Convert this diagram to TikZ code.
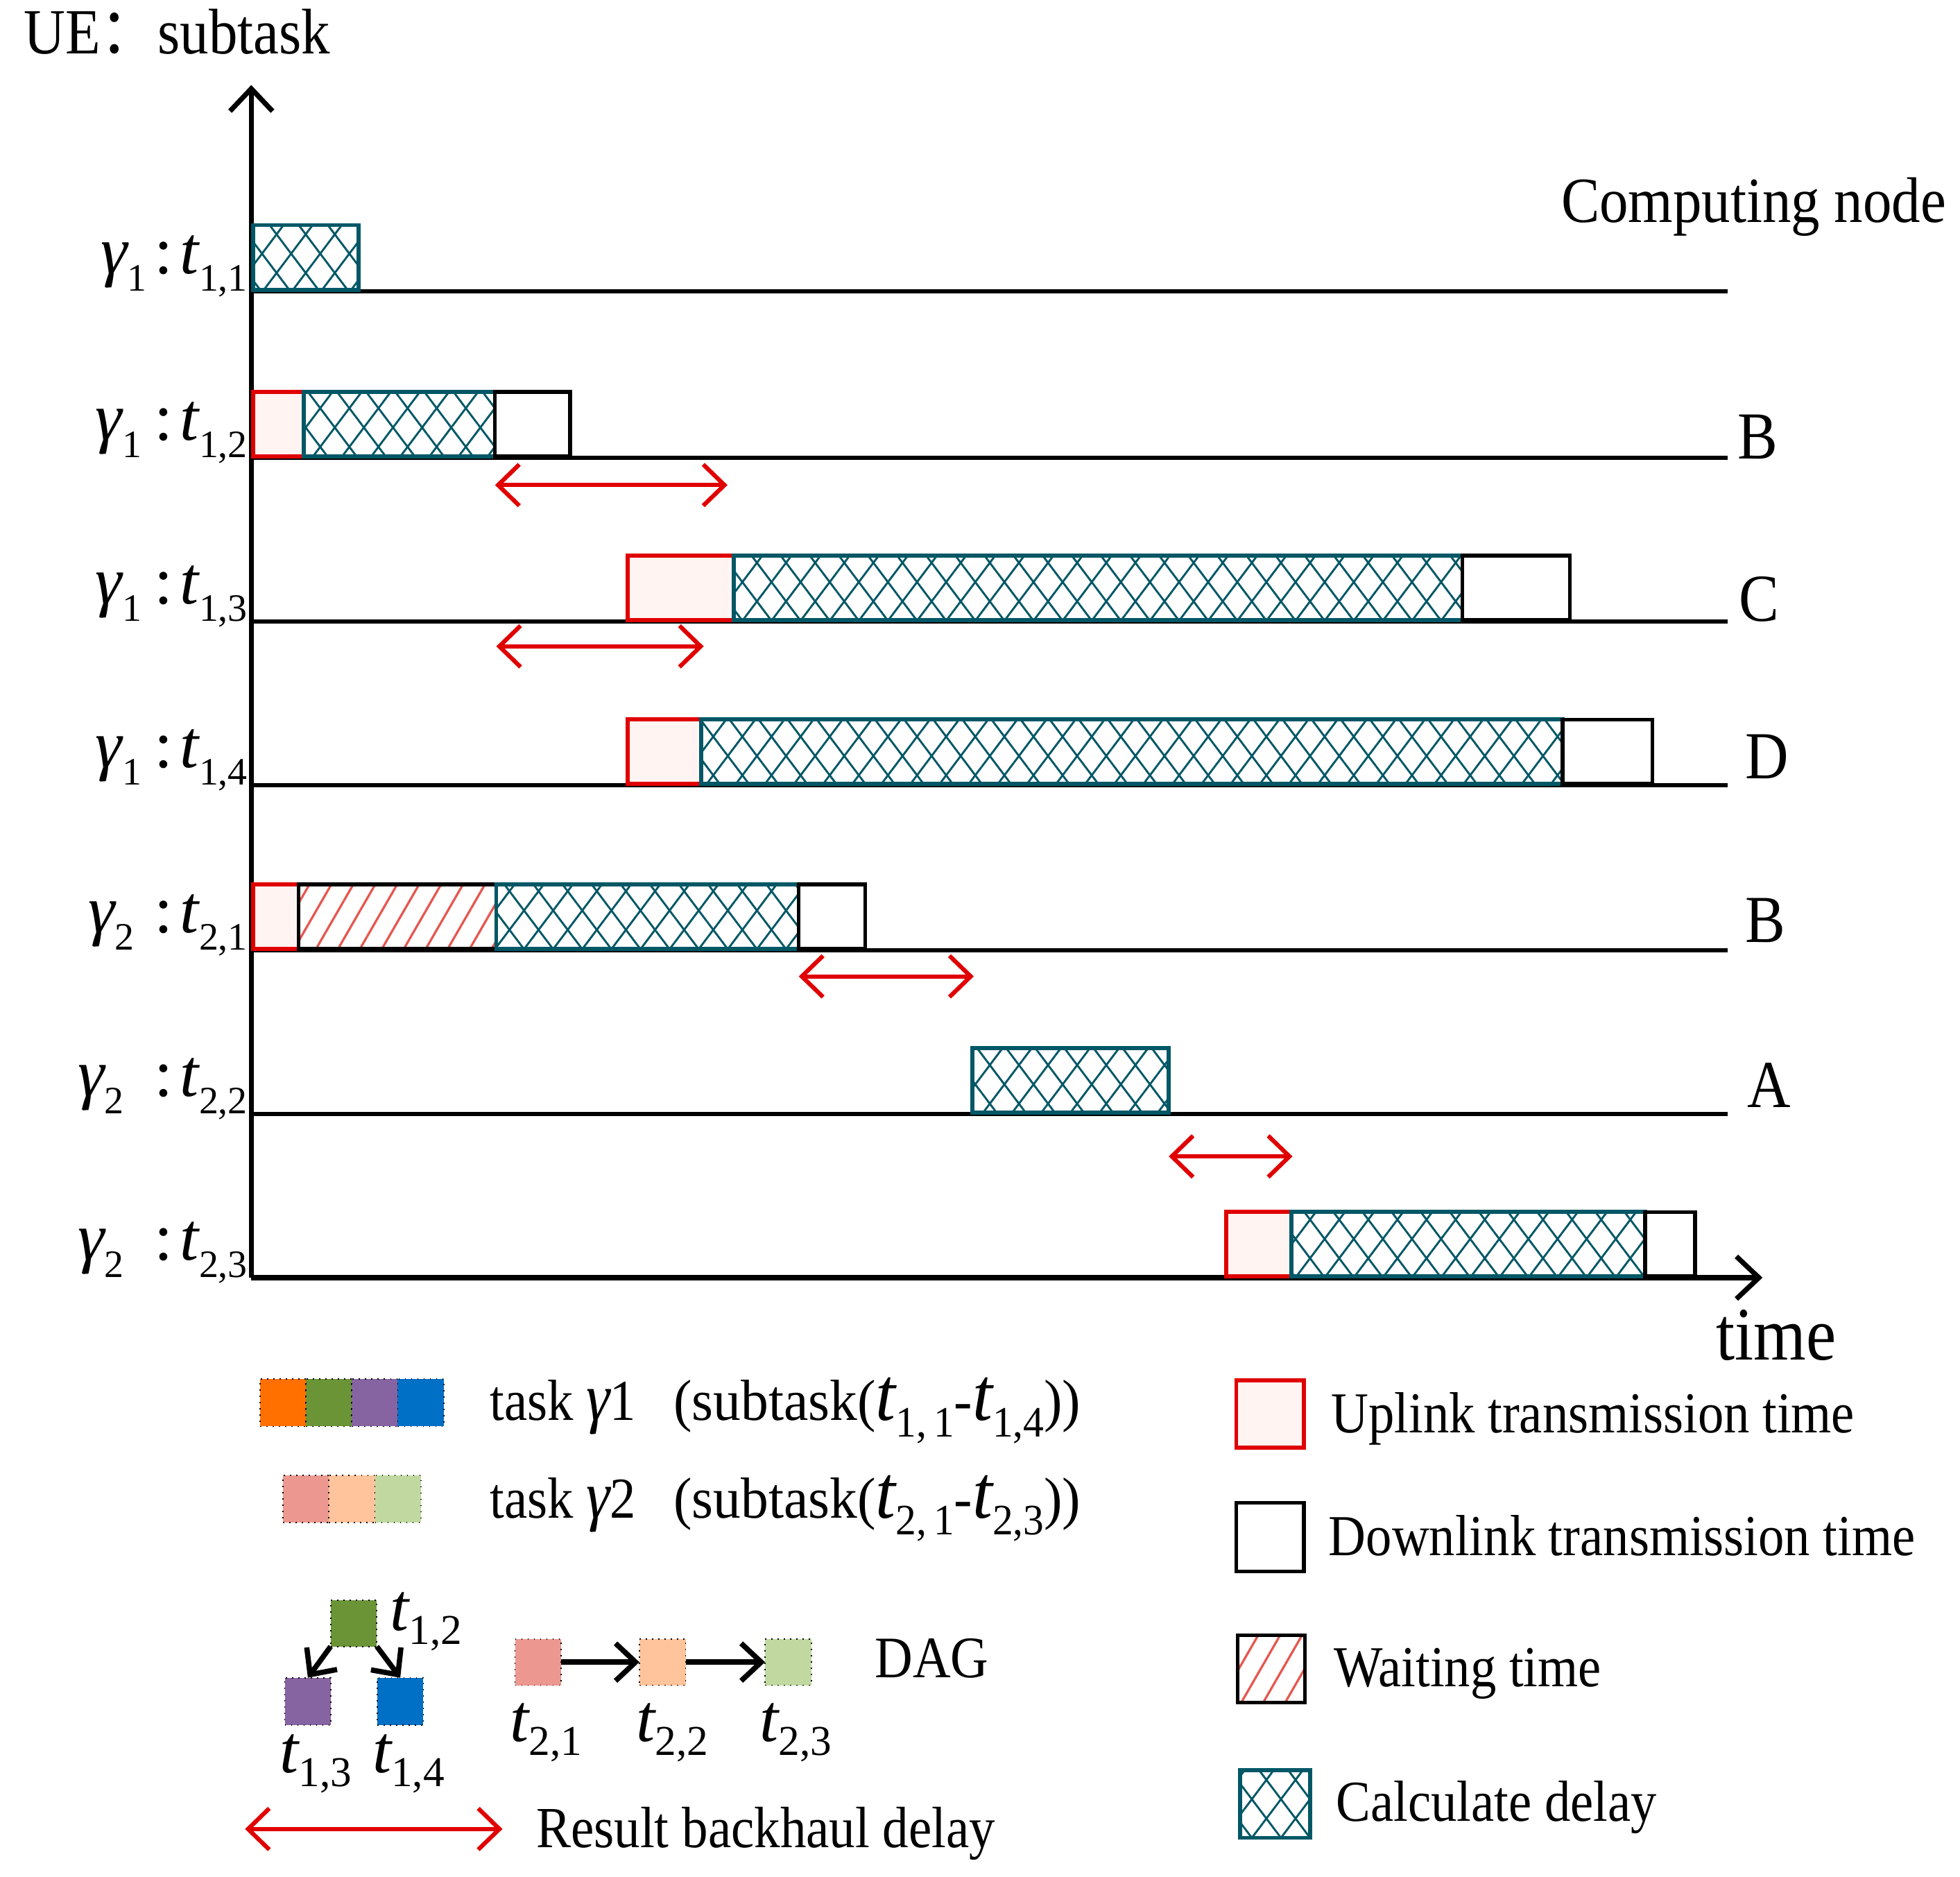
\documentclass[tikz,border=0pt]{standalone}
\usepackage{graphicx}
\usepackage{fontspec}
\setmainfont{Liberation Serif}
\newfontfamily\cjk{Noto Sans CJK SC}
\usetikzlibrary{arrows.meta,patterns.meta}
\definecolor{uplred}{HTML}{E00000}
\definecolor{uplfill}{HTML}{FFF4F2}
\definecolor{calcteal}{HTML}{005766}
\definecolor{waitred}{HTML}{E5574F}
\definecolor{cOrange}{HTML}{FF7000}
\definecolor{cGreen}{HTML}{6A9436}
\definecolor{cPurple}{HTML}{8664A1}
\definecolor{cBlue}{HTML}{0070C6}
\definecolor{cSalmon}{HTML}{EC9890}
\definecolor{cPeach}{HTML}{FFC49B}
\definecolor{cLgreen}{HTML}{C1D9A1}
\newcommand{\fsz}[1]{\fontsize{#1}{#1}\selectfont}
\newcommand{\vst}[1]{\scalebox{1}[1.12]{#1}}
\newcommand{\wst}[1]{\scalebox{1.065}[1.12]{#1}}
\newcommand{\rowlab}[3]{{\fsz{27}\itshape γ}\raisebox{-7pt}{\fsz{15.5}#1}\hspace{#3}{\fsz{27}:}\hspace{3pt}{\fsz{27}\itshape t}\raisebox{-7pt}{\fsz{15.5}#2}}
\newcommand{\tlab}[1]{{\fsz{27}\itshape t}\raisebox{-5.5pt}{\fsz{17}#1}}
\begin{document}
\begin{tikzpicture}[x=0.5pt,y=-0.5pt,
  rowline/.style={line width=1.7pt, black},
  axisline/.style={line width=2pt, black, -{Straight Barb[length=9pt,width=17pt]}},
  upbox/.style={draw=uplred, fill=uplfill, line width=1.6pt},
  downbox/.style={draw=black, fill=white, line width=1.5pt},
  calcbox/.style={preaction={fill=white},
    preaction={pattern={Lines[angle=53,distance=9.3pt,line width=0.8pt]}, pattern color=calcteal},
    preaction={pattern={Lines[angle=-53,distance=9.3pt,line width=0.8pt]}, pattern color=calcteal},
    draw=calcteal, line width=1.6pt},
  waitbox/.style={preaction={fill=white},
    preaction={pattern={Lines[angle=60,distance=7.6pt,line width=0.9pt]}, pattern color=waitred},
    draw=black, line width=1.5pt},
  backarrow/.style={draw=uplred, line width=1.7pt,
    {Straight Barb[length=8.5pt,width=16.5pt]}-{Straight Barb[length=8.5pt,width=16.5pt]}},
  dagarrow/.style={draw=black, line width=2.1pt, -{Straight Barb[length=8pt,width=15pt]}},
  txt/.style={inner sep=0pt, outer sep=0pt, anchor=base west},
  lab/.style={inner sep=0pt, outer sep=0pt, anchor=base east},
  tsq/.style={draw=black, dotted, line width=0.5pt, minimum width=18.4pt, minimum height=19pt, inner sep=0pt, outer sep=0pt}
]
\useasboundingbox (0,0) rectangle (1568,1501);

% axes and row lines
\coordinate (O) at (201,1022);
\coordinate (ytop) at (201,68);
\coordinate (xend) at (1410,1022);
\foreach \yy in {233,366,497,628,760,891} \draw[rowline] (201,\yy) -- (1382,\yy);
\draw[axisline] (O) -- (xend);
\draw[axisline] (O) -- (ytop);

% row 1
\draw[calcbox] (202.5,180) rectangle (287,232);
% row 2
\draw[upbox] (202.5,313.5) rectangle (243,365);
\draw[calcbox] (243,313.5) rectangle (396,365);
\draw[downbox] (396,313.5) rectangle (456,365);
% row 3
\draw[upbox] (502,444.5) rectangle (587,496);
\draw[calcbox] (587,444.5) rectangle (1170,496);
\draw[downbox] (1170,444.5) rectangle (1256,496);
% row 4
\draw[upbox] (502,575.5) rectangle (561,627);
\draw[calcbox] (561,575.5) rectangle (1250,627);
\draw[downbox] (1250,575.5) rectangle (1322,627);
% row 5
\draw[upbox] (202.5,707.5) rectangle (239,759);
\draw[waitbox] (239,707.5) rectangle (397,759);
\draw[calcbox] (397,707.5) rectangle (639,759);
\draw[downbox] (639,707.5) rectangle (692,759);
% row 6
\draw[calcbox] (778,838.5) rectangle (935,890);
% row 7
\draw[upbox] (981,969.5) rectangle (1033,1021);
\draw[calcbox] (1033,969.5) rectangle (1316,1021);
\draw[downbox] (1316,969.5) rectangle (1356,1021);

% result backhaul arrows
\coordinate (b1a) at (396,388);  \coordinate (b1b) at (582,388);
\coordinate (b2a) at (397,517);  \coordinate (b2b) at (563,517);
\coordinate (b3a) at (639,781);  \coordinate (b3b) at (779,781);
\coordinate (b4a) at (935,925);  \coordinate (b4b) at (1034,925);
\coordinate (b5a) at (196,1463); \coordinate (b5b) at (402,1463);
\draw[backarrow] (b1a) -- (b1b);
\draw[backarrow] (b2a) -- (b2b);
\draw[backarrow] (b3a) -- (b3b);
\draw[backarrow] (b4a) -- (b4b);
\draw[backarrow] (b5a) -- (b5b);

% row labels
\node[lab] (l1) at (198,219) {\rowlab{1}{1,1}{3pt}};
\node[lab] (l2) at (198,352) {\rowlab{1}{1,2}{5pt}};
\node[lab] (l3) at (198,483) {\rowlab{1}{1,3}{5pt}};
\node[lab] (l4) at (198,614) {\rowlab{1}{1,4}{5pt}};
\node[lab] (l5) at (198,746) {\rowlab{2}{2,1}{8pt}};
\node[lab] (l6) at (198,877) {\rowlab{2}{2,2}{12pt}};
\node[lab] (l7) at (198,1008) {\rowlab{2}{2,3}{12pt}};

% titles
\node[txt] (ue) at (19,43) {\vst{\fsz{23}UE{\cjk ：}subtask}};
\node[txt] (cn) at (1249,178) {\vst{\fsz{23}Computing node}};
\node[txt] (tm) at (1373,1088) {\vst{\fsz{27}time}};
\node[txt] (nB1) at (1390,367) {\vst{\fsz{24}B}};
\node[txt] (nC) at (1391,497) {\vst{\fsz{24}C}};
\node[txt] (nD) at (1396,623) {\vst{\fsz{24}D}};
\node[txt] (nB2) at (1396,754) {\vst{\fsz{24}B}};
\node[txt] (nA) at (1398,886) {\vst{\fsz{24}A}};

% task colour legend
\node[tsq, fill=cOrange] (k11) at (226.4,1122) {};
\node[tsq, fill=cGreen] (k12) at (263.1,1122) {};
\node[tsq, fill=cPurple] (k13) at (299.9,1122) {};
\node[tsq, fill=cBlue] (k14) at (336.6,1122) {};
\node[tsq, fill=cSalmon] (k21) at (244.9,1199) {};
\node[tsq, fill=cPeach] (k22) at (281.6,1199) {};
\node[tsq, fill=cLgreen] (k23) at (318.3,1199) {};
\node[txt] (task1) at (392,1136) {\vst{\fsz{20.7}task {\fsz{24}\itshape γ}1}};
\node[txt] (sub1) at (539,1136) {\wst{\fsz{20.7}(subtask({\fsz{27}\itshape t}\raisebox{-6pt}{\fsz{15.5}1,\,1}-{\fsz{27}\itshape t}\raisebox{-6pt}{\fsz{15.5}1,4}))}};
\node[txt] (task2) at (392,1214) {\vst{\fsz{20.7}task {\fsz{24}\itshape γ}2}};
\node[txt] (sub2) at (539,1214) {\wst{\fsz{20.7}(subtask({\fsz{27}\itshape t}\raisebox{-6pt}{\fsz{15.5}2,\,1}-{\fsz{27}\itshape t}\raisebox{-6pt}{\fsz{15.5}2,3}))}};

% DAG
\node[tsq, fill=cGreen, minimum width=18.5pt, minimum height=18.5pt] (g12) at (283,1298.5) {};
\node[tsq, fill=cPurple, minimum width=18.5pt, minimum height=19pt] (p13) at (246.3,1361) {};
\node[tsq, fill=cBlue, minimum width=18.5pt, minimum height=19pt] (b14) at (320.2,1361) {};
\node[tsq, fill=cSalmon, minimum width=18.5pt, minimum height=18.5pt] (s21) at (430.5,1329.5) {};
\node[tsq, fill=cPeach, minimum width=18.5pt, minimum height=18.5pt] (p22) at (530,1329.5) {};
\node[tsq, fill=cLgreen, minimum width=18.5pt, minimum height=18.5pt] (l23) at (630.5,1329.5) {};
\draw[dagarrow] (g12.south west) -- (p13.north);
\draw[dagarrow] (g12.south east) -- (b14.north);
\draw[dagarrow] (s21.east) -- (p22.west);
\draw[dagarrow] (p22.east) -- (l23.west);
\node[txt] (t12) at (312,1304) {\tlab{1,2}};
\node[txt] (t13) at (224,1418) {\tlab{1,3}};
\node[txt] (t14) at (298,1418) {\tlab{1,4}};
\node[txt] (t21) at (408,1393) {\tlab{2,1}};
\node[txt] (t22) at (509,1393) {\tlab{2,2}};
\node[txt] (t23) at (608,1393) {\tlab{2,3}};
\node[txt] (dag) at (700,1342) {\vst{\fsz{21}DAG}};
\node[txt] (rbd) at (429,1478) {\vst{\fsz{20.8}Result backhaul delay}};

% right legend
\draw[upbox] (989,1104) rectangle (1043,1158);
\draw[downbox] (989,1202) rectangle (1043,1257);
\draw[waitbox] (990,1308) rectangle (1044,1362);
\draw[calcbox] (992,1416) rectangle (1048,1470);
\node[txt] (lg1) at (1065,1146) {\vst{\fsz{20.7}Uplink transmission time}};
\node[txt] (lg2) at (1063,1244) {\vst{\fsz{20.7}Downlink transmission time}};
\node[txt] (lg3) at (1067,1349) {\vst{\fsz{20.7}Waiting time}};
\node[txt] (lg4) at (1069,1457) {\vst{\fsz{20.7}Calculate delay}};
\end{tikzpicture}
\end{document}
